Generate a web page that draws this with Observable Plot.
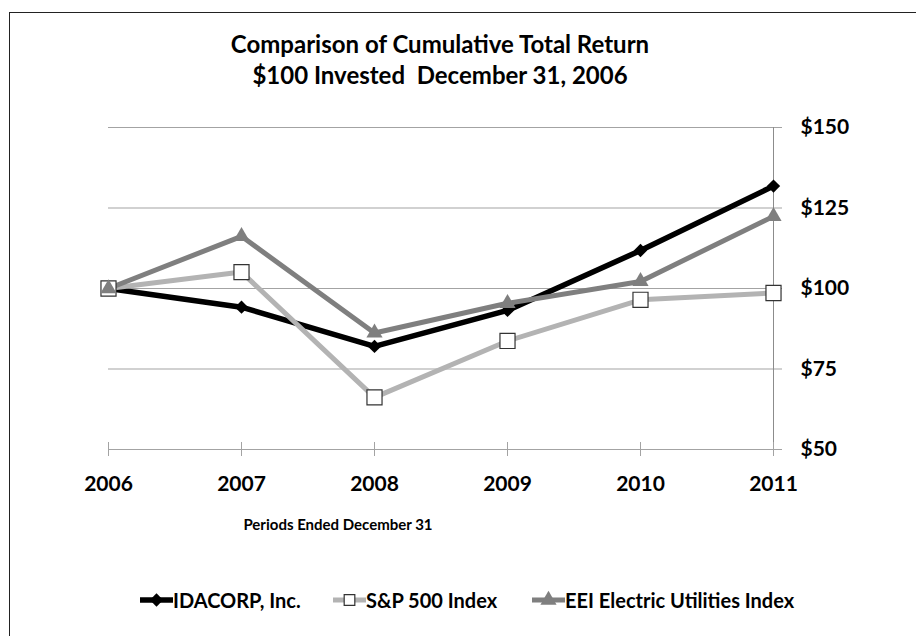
<!DOCTYPE html>
<html><head><meta charset="utf-8">
<script src="https://cdn.jsdelivr.net/npm/d3@7"></script>
<script src="https://cdn.jsdelivr.net/npm/@observablehq/plot@0.6"></script>
<style>
body{margin:0;background:#fff;}
#root{position:relative;width:916px;height:636px;overflow:hidden;background:#fff;font-family:Lato,"Open Sans",sans-serif;font-weight:bold;color:#000;}
#frame{position:absolute;left:9px;top:12px;width:1000px;height:1000px;border:1px solid #222;}
#title{position:absolute;left:0;width:880px;top:28px;text-align:center;font-size:24px;line-height:31px;}
#chart{position:absolute;left:0;top:100px;}
#xlabel{position:absolute;left:188px;width:300px;top:515px;text-align:center;font-size:15px;line-height:18px;}
.item{position:absolute;top:589px;height:22px;display:flex;align-items:center;font-size:20px;white-space:nowrap;}
.item svg{display:block;}
</style></head>
<body><div id="root">
<div id="frame"></div>
<div id="title">Comparison of Cumulative Total Return<br>$100 Invested&nbsp; December 31, 2006</div>
<div id="chart"></div>
<div id="xlabel">Periods Ended December 31</div>
<div id="legend"></div>
</div>
<script>
const years = [2006, 2007, 2008, 2009, 2010, 2011];
const yTicks = [50, 75, 100, 125, 150];
const seriesNames = ["IDACORP, Inc.", "S&P 500 Index", "EEI Electric Utilities Index"];
const idacorp = [100, 94.2, 82.0, 93.2, 111.8, 131.8];
const sp500 = [100, 105.1, 66.2, 83.7, 96.5, 98.6];
const eei = [100, 116.2, 86.2, 95.4, 102.2, 122.4];
const xAxisTitle = "Periods Ended December 31";

const styles = [
  {line: "#000000", width: 5.5, symbol: "diamond2", r: 6, fill: "#000000", stroke: "none"},
  {line: "#b3b3b3", width: 5, symbol: "square", r: 8.5, fill: "#ffffff", stroke: "#333333"},
  {line: "#7f7f7f", width: 5, symbol: "triangle", r: 6, fill: "#7f7f7f", stroke: "none"}
];
const valuesList = [idacorp, sp500, eei];
const rowsFor = (k) => years.map((yr, i) => ({series: seriesNames[k], year: yr, value: valuesList[k][i]}));

const marks = [
  Plot.gridY(yTicks, {stroke: "#a3a3a3", strokeOpacity: 1}),
  Plot.ruleX([years[years.length - 1]], {stroke: "#8c8c8c"}),
  Plot.ruleX(years, {y1: yTicks[0], y2: yTicks[0], insetTop: -7, insetBottom: -7, stroke: "#a3a3a3"}),
  Plot.axisY(yTicks, {anchor: "right", label: null, tickSize: 8, tickPadding: 19, tickFormat: d => "$" + d, fontSize: 21, stroke: "#a3a3a3", fill: "#000"}),
  Plot.axisX(years, {label: null, tickSize: 0, tickPadding: 27, tickFormat: d3.format("d"), fontSize: 21, fill: "#000"})
];
styles.forEach((s, k) => {
  marks.push(Plot.line(rowsFor(k), {x: "year", y: "value", stroke: s.line, strokeWidth: s.width, strokeLinejoin: "miter"}));
});
styles.forEach((s, k) => {
  marks.push(Plot.dot(rowsFor(k), {x: "year", y: "value", symbol: s.symbol, r: s.r, fill: s.fill, stroke: s.stroke, strokeWidth: 1.2}));
});

const chart = Plot.plot({
  width: 916,
  height: 410,
  marginTop: 27,
  marginBottom: 61,
  marginLeft: 108,
  marginRight: 143,
  style: {fontFamily: "Lato, 'Open Sans', sans-serif", fontWeight: "bold", background: "transparent", overflow: "visible"},
  x: {domain: [years[0], years[years.length - 1]], axis: null, label: null},
  y: {domain: [yTicks[0], yTicks[yTicks.length - 1]], axis: null, label: null},
  marks
});
document.getElementById("chart").appendChild(chart);
document.getElementById("xlabel").textContent = xAxisTitle;

// legend
const legendLefts = [140, 333, 532];
const legend = document.getElementById("legend");
styles.forEach((s, k) => {
  const item = document.createElement("div");
  item.className = "item";
  item.style.left = legendLefts[k] + "px";
  const svg = d3.create("svg").attr("width", 33).attr("height", 22);
  svg.append("line").attr("x1", 0).attr("x2", 33).attr("y1", 11).attr("y2", 11)
    .attr("stroke", s.line).attr("stroke-width", s.width);
  const sym = s.symbol === "diamond2" ? d3.symbolDiamond2 : s.symbol === "square" ? d3.symbolSquare : d3.symbolTriangle;
  const rr = s.symbol === "square" ? 6 : s.r;
  svg.append("path").attr("transform", "translate(16.5,11)")
    .attr("d", d3.symbol(sym, Math.PI * rr * rr)())
    .attr("fill", s.fill).attr("stroke", s.stroke).attr("stroke-width", 1.2);
  item.appendChild(svg.node());
  const t = document.createElement("span");
  t.textContent = seriesNames[k];
  item.appendChild(t);
  legend.appendChild(item);
});
</script>
</body></html>
